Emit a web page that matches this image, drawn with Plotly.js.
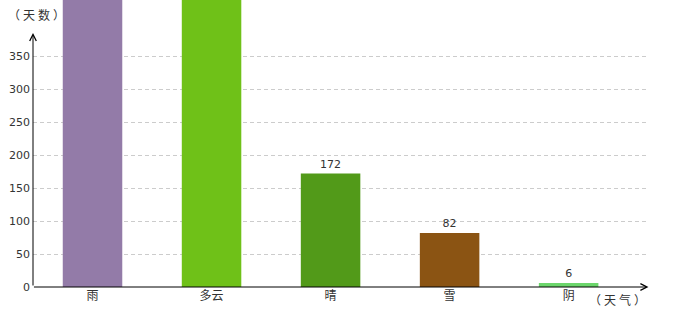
<!DOCTYPE html>
<html>
<head>
<meta charset="utf-8">
<script src="https://cdn.plot.ly/plotly-3.0.1.min.js"></script>
<style>
html,body{margin:0;padding:0;background:#fff;}
#chart{width:680px;height:320px;}
#chart .annotation-text{letter-spacing: 3px;}
</style>
</head>
<body>
<div id="chart"></div>
<script>
// Data
var categories = ['雨', '多云', '晴', '雪', '阴'];
var days = [460, 470, 172, 82, 6];            // first two exceed the visible range
var labels = ['', '', '172', '82', '6'];      // labels visible in the picture
var barColors = ['#937ba8', '#6fc118', '#529a19', '#8b5413', '#6cd66c'];
var yTicks = [0, 50, 100, 150, 200, 250, 300, 350];
var yTitle = '（天数）';
var xTitle = '（天气）';

var cjk = '"Noto Sans CJK SC", "DejaVu Sans", sans-serif';
var num = '"DejaVu Sans", Verdana, sans-serif';

var trace = {
  type: 'bar',
  x: categories,
  y: days,
  text: labels,
  textposition: 'outside',
  textfont: {family: num, size: 11, color: '#333'},
  marker: {color: barColors, line: {width: 0}},
  width: 0.5,
  cliponaxis: false,
  hoverinfo: 'none'
};

var layout = {
  width: 680, height: 320,
  margin: {l: 33, r: 34, t: 0, b: 33, pad: 0},
  paper_bgcolor: '#fff', plot_bgcolor: '#fff',
  showlegend: false,
  xaxis: {
    range: [-0.5, 4.65],
    showline: false, zeroline: false, showgrid: false, ticks: '',
    tickfont: {family: cjk, size: 12, color: '#333'},
    fixedrange: true
  },
  yaxis: {
    range: [0, 435],
    tickvals: yTicks,
    showline: false, zeroline: false, ticks: '',
    showgrid: true, gridcolor: '#cccccc', gridwidth: 1, griddash: '4px,3px',
    tickfont: {family: num, size: 11, color: '#333'},
    ticklabelstandoff: 2,
    fixedrange: true
  },
  annotations: [
    {xref: 'paper', yref: 'y', x: 0, y: 385, ax: 0, ay: 254, axref: 'pixel', ayref: 'pixel',
     text: '', showarrow: true, arrowhead: 5, arrowsize: 1.3, arrowwidth: 1, arrowcolor: '#000', standoff: 0, startstandoff: 0},
    {xref: 'paper', yref: 'y', x: 1.004, y: 0, ax: -616, ay: 0,
     text: '', showarrow: true, arrowhead: 5, arrowsize: 1.3, arrowwidth: 1, arrowcolor: '#000', standoff: 0, startstandoff: 0},
    {xref: 'paper', yref: 'paper', x: 0.008, y: 0.948, xanchor: 'center', yanchor: 'middle',
     text: yTitle, showarrow: false, font: {family: cjk, size: 12, color: '#333'}},
    {xref: 'paper', yref: 'paper', x: 0.956, y: -0.042, xanchor: 'center', yanchor: 'middle',
     text: xTitle, showarrow: false, font: {family: cjk, size: 12, color: '#333'}}
  ]
};

Plotly.newPlot('chart', [trace], layout, {staticPlot: true, displayModeBar: false});
</script>
</body>
</html>
